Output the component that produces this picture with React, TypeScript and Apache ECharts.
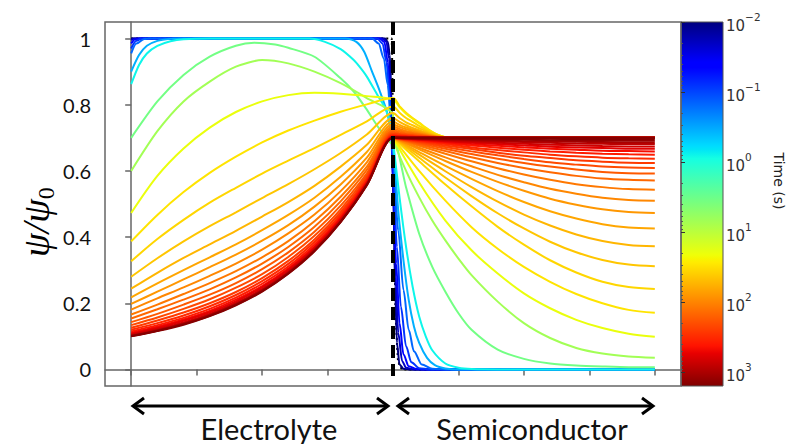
import React, { useEffect, useRef } from "react";
import * as echarts from "echarts";

// ---------- data ----------
const X_TICKS = [0, 0.25, 0.5, 0.75, 1, 1.25, 1.5, 1.75, 2];
const Y_TICKS = [0, 0.2, 0.4, 0.6, 0.8, 1];
const TIME_EXPONENTS = [-2, -1, 0, 1, 2, 3];
const COLORBAR_LOG_RANGE = [-2, 3.2];
const INTERFACE_X = 1;

const X_ELECTROLYTE = [0, 0.1, 0.2, 0.3, 0.4, 0.5, 0.6, 0.7, 0.8, 0.9, 1];
const X_BUMP = [1.025, 1.05, 1.075, 1.1, 1.125, 1.15, 1.175, 1.2, 1.25];
const X_SEMICONDUCTOR = [1, 1.1, 1.2, 1.3, 1.4, 1.5, 1.6, 1.7, 1.8, 1.9, 2];
const FAR_END = [2, 0.7];

const INITIAL_PROFILE = [[0, 1], [0.995, 1], [1.003, 0.6], [1.01, 0.15], [1.02, 0.02], [1.035, 0], [2, 0]];

const EARLY_TIMES = [0.01, 0.02, 0.04, 0.08, 0.15, 0.35, 0.8, 3.5, 7];
const EARLY_PROFILES = [
  [[0, 1], [0.97, 1], [0.98, 0.99], [0.988, 0.95], [0.995, 0.8], [1.002, 0.5], [1.008, 0.25], [1.015, 0.08], [1.025, 0.015], [1.04, 0.002], [1.06, 0], [2, 0]],
  [[0, 0.995], [0.01, 1], [0.96, 1], [0.975, 0.99], [0.985, 0.94], [0.993, 0.8], [1, 0.55], [1.01, 0.28], [1.02, 0.11], [1.035, 0.025], [1.05, 0.005], [1.08, 0], [2, 0]],
  [[0, 0.985], [0.015, 0.998], [0.03, 1], [0.95, 1], [0.967, 0.99], [0.98, 0.93], [0.99, 0.8], [1, 0.58], [1.012, 0.32], [1.025, 0.14], [1.04, 0.045], [1.06, 0.01], [1.09, 0.001], [1.12, 0], [2, 0]],
  [[0, 0.97], [0.02, 0.993], [0.04, 1], [0.94, 1], [0.96, 0.985], [0.975, 0.93], [0.988, 0.82], [1, 0.62], [1.015, 0.37], [1.03, 0.19], [1.05, 0.07], [1.07, 0.022], [1.1, 0.004], [1.14, 0], [2, 0]],
  [[0, 0.955], [0.02, 0.985], [0.05, 0.999], [0.07, 1], [0.92, 1], [0.945, 0.985], [0.965, 0.94], [0.98, 0.86], [0.993, 0.74], [1, 0.65], [1.02, 0.42], [1.04, 0.24], [1.06, 0.12], [1.08, 0.055], [1.11, 0.015], [1.15, 0.002], [1.2, 0], [2, 0]],
  [[0, 0.9], [0.03, 0.95], [0.06, 0.978], [0.1, 0.993], [0.15, 0.999], [0.2, 1], [0.82, 1], [0.86, 0.99], [0.89, 0.96], [0.92, 0.9], [0.95, 0.84], [0.98, 0.77], [1, 0.68], [1.02, 0.48], [1.04, 0.33], [1.06, 0.21], [1.08, 0.13], [1.1, 0.08], [1.13, 0.035], [1.16, 0.013], [1.2, 0.003], [1.25, 0], [2, 0]],
  [[0, 0.862], [0.03, 0.92], [0.06, 0.955], [0.1, 0.978], [0.15, 0.992], [0.2, 0.998], [0.3, 1], [0.68, 1], [0.74, 0.99], [0.8, 0.968], [0.85, 0.935], [0.875, 0.912], [0.9, 0.885], [0.94, 0.83], [0.97, 0.79], [0.99, 0.74], [1, 0.69], [1.025, 0.52], [1.05, 0.37], [1.075, 0.25], [1.1, 0.16], [1.125, 0.1], [1.15, 0.058], [1.2, 0.018], [1.25, 0.005], [1.3, 0.001], [1.4, 0], [2, 0]],
  [[0, 0.7], [0.1, 0.81], [0.2, 0.89], [0.3, 0.945], [0.4, 0.978], [0.47, 0.987], [0.55, 0.982], [0.6, 0.972], [0.7, 0.945], [0.8, 0.88], [0.85, 0.84], [0.9, 0.785], [0.95, 0.725], [1, 0.68], [1.002, 0.7], [1.05, 0.55], [1.1, 0.41], [1.15, 0.31], [1.2, 0.235], [1.25, 0.17], [1.3, 0.12], [1.4, 0.06], [1.5, 0.032], [1.6, 0.018], [1.7, 0.012], [1.8, 0.009], [1.9, 0.007], [2, 0.007]],
  [[0, 0.6], [0.1, 0.72], [0.2, 0.81], [0.3, 0.87], [0.4, 0.915], [0.5, 0.935], [0.6, 0.925], [0.7, 0.9], [0.8, 0.865], [0.9, 0.82], [1, 0.77], [1.002, 0.7], [1.05, 0.6], [1.1, 0.52], [1.15, 0.45], [1.2, 0.39], [1.25, 0.335], [1.3, 0.285], [1.4, 0.205], [1.5, 0.14], [1.6, 0.095], [1.7, 0.065], [1.8, 0.048], [1.9, 0.039], [2, 0.035]],
];
// curves that need monotone smoothing (step-like early profiles)
const EARLY_MONOTONE = [true, true, true, true, true, false, false, false, false];

const LATE_TIMES = [20, 30, 36, 44, 54, 66, 80, 97, 118, 144, 175, 212, 258, 314, 382, 465, 565, 687, 836, 1016, 1236, 1500];
const LATE_ELECTROLYTE = [
  [0.473, 0.585, 0.668, 0.731, 0.778, 0.81, 0.829, 0.836, 0.833, 0.826, 0.816],
  [0.387, 0.467, 0.536, 0.594, 0.643, 0.686, 0.722, 0.752, 0.779, 0.801, 0.82],
  [0.327, 0.394, 0.452, 0.504, 0.549, 0.592, 0.631, 0.669, 0.709, 0.75, 0.795],
  [0.28, 0.336, 0.387, 0.433, 0.475, 0.518, 0.56, 0.605, 0.654, 0.71, 0.775],
  [0.244, 0.292, 0.337, 0.378, 0.419, 0.462, 0.506, 0.555, 0.613, 0.679, 0.76],
  [0.218, 0.26, 0.3, 0.339, 0.378, 0.421, 0.467, 0.519, 0.582, 0.657, 0.749],
  [0.198, 0.235, 0.272, 0.309, 0.347, 0.389, 0.436, 0.492, 0.559, 0.64, 0.741],
  [0.181, 0.215, 0.248, 0.283, 0.32, 0.362, 0.411, 0.468, 0.539, 0.626, 0.734],
  [0.166, 0.196, 0.228, 0.261, 0.297, 0.339, 0.388, 0.448, 0.522, 0.613, 0.728],
  [0.154, 0.182, 0.211, 0.242, 0.278, 0.32, 0.37, 0.431, 0.508, 0.603, 0.723],
  [0.143, 0.168, 0.196, 0.226, 0.261, 0.303, 0.354, 0.416, 0.495, 0.593, 0.718],
  [0.134, 0.157, 0.183, 0.212, 0.247, 0.288, 0.34, 0.404, 0.484, 0.586, 0.714],
  [0.126, 0.148, 0.172, 0.2, 0.234, 0.276, 0.328, 0.393, 0.475, 0.579, 0.711],
  [0.12, 0.14, 0.163, 0.191, 0.225, 0.267, 0.319, 0.385, 0.468, 0.574, 0.708],
  [0.115, 0.134, 0.156, 0.183, 0.217, 0.259, 0.311, 0.378, 0.462, 0.569, 0.706],
  [0.111, 0.129, 0.151, 0.177, 0.211, 0.252, 0.305, 0.372, 0.457, 0.566, 0.705],
  [0.108, 0.125, 0.147, 0.173, 0.206, 0.248, 0.301, 0.368, 0.454, 0.564, 0.703],
  [0.105, 0.122, 0.142, 0.168, 0.201, 0.243, 0.296, 0.364, 0.45, 0.561, 0.702],
  [0.103, 0.119, 0.139, 0.165, 0.198, 0.24, 0.293, 0.361, 0.448, 0.559, 0.701],
  [0.102, 0.118, 0.138, 0.164, 0.197, 0.238, 0.292, 0.36, 0.447, 0.558, 0.701],
  [0.101, 0.117, 0.137, 0.162, 0.195, 0.237, 0.29, 0.358, 0.446, 0.557, 0.7],
  [0.1, 0.116, 0.135, 0.161, 0.194, 0.235, 0.289, 0.357, 0.445, 0.557, 0.7],
];
const LATE_BUMP = [
  [0.793, 0.773, 0.758, 0.744, 0.73, 0.717, 0.708, 0.702, 0.7],
  [0.796, 0.776, 0.76, 0.746, 0.731, 0.718, 0.708, 0.702, 0.7],
  [0.776, 0.76, 0.748, 0.736, 0.725, 0.714, 0.707, 0.702, 0.7],
  [0.76, 0.747, 0.738, 0.729, 0.72, 0.711, 0.705, 0.702, 0.7],
  [0.748, 0.738, 0.73, 0.723, 0.716, 0.709, 0.704, 0.701, 0.7],
  [0.739, 0.731, 0.725, 0.719, 0.713, 0.707, 0.703, 0.701, 0.7],
  [0.733, 0.726, 0.721, 0.716, 0.711, 0.706, 0.703, 0.701, 0.7],
  [0.727, 0.721, 0.717, 0.713, 0.709, 0.705, 0.702, 0.701, 0.7],
  [0.722, 0.718, 0.714, 0.711, 0.707, 0.704, 0.702, 0.701, 0.7],
  [0.718, 0.714, 0.712, 0.709, 0.706, 0.703, 0.702, 0.7, 0.7],
  [0.714, 0.711, 0.709, 0.707, 0.705, 0.703, 0.701, 0.7, 0.7],
  [0.711, 0.709, 0.707, 0.705, 0.704, 0.702, 0.701, 0.7, 0.7],
  [0.709, 0.707, 0.706, 0.704, 0.703, 0.702, 0.701, 0.7, 0.7],
  [0.706, 0.705, 0.704, 0.703, 0.702, 0.701, 0.701, 0.7, 0.7],
  [0.705, 0.704, 0.703, 0.702, 0.702, 0.701, 0.7, 0.7, 0.7],
  [0.704, 0.703, 0.702, 0.702, 0.701, 0.701, 0.7, 0.7, 0.7],
  [0.702, 0.702, 0.701, 0.701, 0.701, 0.7, 0.7, 0.7, 0.7],
  [0.701, 0.701, 0.701, 0.7, 0.7, 0.7, 0.7, 0.7, 0.7],
  [0.701, 0.701, 0.7, 0.7, 0.7, 0.7, 0.7, 0.7, 0.7],
  [0.7, 0.7, 0.7, 0.7, 0.7, 0.7, 0.7, 0.7, 0.7],
  [0.7, 0.7, 0.7, 0.7, 0.7, 0.7, 0.7, 0.7, 0.7],
  [0.7, 0.7, 0.7, 0.7, 0.7, 0.7, 0.7, 0.7, 0.7],
];
const LATE_SEMICONDUCTOR = [
  [0.7, 0.565, 0.45, 0.36, 0.29, 0.23, 0.185, 0.15, 0.125, 0.108, 0.099],
  [0.7, 0.6, 0.51, 0.43, 0.365, 0.31, 0.265, 0.228, 0.2, 0.18, 0.171],
  [0.7, 0.629, 0.559, 0.493, 0.431, 0.377, 0.33, 0.293, 0.265, 0.249, 0.243],
  [0.7, 0.64, 0.58, 0.524, 0.472, 0.426, 0.386, 0.354, 0.331, 0.317, 0.312],
  [0.7, 0.649, 0.599, 0.551, 0.507, 0.468, 0.435, 0.408, 0.388, 0.376, 0.372],
  [0.7, 0.657, 0.615, 0.576, 0.539, 0.506, 0.478, 0.456, 0.439, 0.429, 0.426],
  [0.7, 0.665, 0.63, 0.597, 0.567, 0.54, 0.516, 0.498, 0.484, 0.476, 0.473],
  [0.7, 0.67, 0.641, 0.614, 0.588, 0.566, 0.546, 0.531, 0.519, 0.512, 0.51],
  [0.7, 0.676, 0.652, 0.629, 0.608, 0.589, 0.573, 0.56, 0.551, 0.545, 0.543],
  [0.7, 0.68, 0.66, 0.641, 0.624, 0.609, 0.596, 0.585, 0.577, 0.573, 0.571],
  [0.7, 0.683, 0.667, 0.651, 0.637, 0.624, 0.613, 0.604, 0.597, 0.593, 0.592],
  [0.7, 0.686, 0.672, 0.659, 0.647, 0.636, 0.626, 0.619, 0.613, 0.61, 0.609],
  [0.7, 0.688, 0.677, 0.666, 0.655, 0.646, 0.639, 0.632, 0.628, 0.625, 0.624],
  [0.7, 0.69, 0.681, 0.671, 0.663, 0.656, 0.649, 0.644, 0.64, 0.638, 0.637],
  [0.7, 0.692, 0.684, 0.677, 0.67, 0.664, 0.659, 0.655, 0.652, 0.65, 0.649],
  [0.7, 0.694, 0.687, 0.681, 0.676, 0.671, 0.667, 0.664, 0.661, 0.66, 0.659],
  [0.7, 0.695, 0.69, 0.685, 0.681, 0.677, 0.673, 0.671, 0.669, 0.667, 0.667],
  [0.7, 0.696, 0.692, 0.688, 0.685, 0.682, 0.679, 0.677, 0.675, 0.674, 0.674],
  [0.7, 0.697, 0.694, 0.691, 0.689, 0.687, 0.685, 0.683, 0.682, 0.681, 0.681],
  [0.7, 0.698, 0.696, 0.694, 0.692, 0.69, 0.689, 0.688, 0.687, 0.686, 0.686],
  [0.7, 0.699, 0.697, 0.696, 0.695, 0.694, 0.693, 0.692, 0.691, 0.691, 0.691],
  [0.7, 0.699, 0.699, 0.698, 0.698, 0.697, 0.697, 0.696, 0.696, 0.696, 0.696],
];

// ---------- styling helpers ----------
const JET_R = [[0, 0], [0.35, 0], [0.66, 1], [0.89, 1], [1, 0.5]];
const JET_G = [[0, 0], [0.125, 0], [0.375, 1], [0.64, 1], [0.91, 0], [1, 0]];
const JET_B = [[0, 0.5], [0.11, 1], [0.34, 1], [0.65, 0], [1, 0]];

function seg(p: number, pts: number[][]) {
  if (p <= pts[0][0]) return pts[0][1];
  for (let i = 1; i < pts.length; i++) {
    if (p <= pts[i][0]) {
      const [x0, y0] = pts[i - 1];
      const [x1, y1] = pts[i];
      return y0 + ((y1 - y0) * (p - x0)) / (x1 - x0);
    }
  }
  return pts[pts.length - 1][1];
}
function jet(p: number) {
  const c = (v: number) => Math.round(Math.max(0, Math.min(1, v)) * 255);
  return `rgb(${c(seg(p, JET_R))},${c(seg(p, JET_G))},${c(seg(p, JET_B))})`;
}
function timeColor(t: number) {
  const p = (Math.log10(t) - COLORBAR_LOG_RANGE[0]) / (COLORBAR_LOG_RANGE[1] - COLORBAR_LOG_RANGE[0]);
  return jet(p);
}

const PLOT = { left: 105, top: 22, width: 576, height: 364 };
const CBAR = { left: 681, top: 22, width: 42, height: 364 };

export default function App() {
  const ref = useRef<HTMLDivElement>(null);
  useEffect(() => {
    if (!ref.current) return;
    const chart = echarts.init(ref.current, undefined, { renderer: "svg" });

    const lineBase = {
      type: "line",
      xAxisIndex: 0,
      yAxisIndex: 0,
      showSymbol: false,
      symbol: "none",
      smooth: true,
      silent: true,
      animation: false,
    };
    const series: any[] = [];
    series.push({
      ...lineBase,
      data: INITIAL_PROFILE,
      smooth: 0.2,
      smoothMonotone: "x",
      lineStyle: { color: "#000", width: 2, type: [2, 3] },
    });
    EARLY_TIMES.forEach((t, i) => {
      const s: any = {
        ...lineBase,
        data: EARLY_PROFILES[i],
        smooth: EARLY_MONOTONE[i] ? 0.3 : 0.25,
        lineStyle: { color: timeColor(t), width: 2 },
      };
      if (EARLY_MONOTONE[i]) s.smoothMonotone = "x";
      series.push(s);
    });
    LATE_TIMES.forEach((t, i) => {
      const color = timeColor(t);
      const a: number[][] = X_ELECTROLYTE.map((x, k) => [x, LATE_ELECTROLYTE[i][k]]);
      X_BUMP.forEach((x, k) => a.push([x, LATE_BUMP[i][k]]));
      a.push(FAR_END);
      series.push({ ...lineBase, data: a, smooth: 0.3, lineStyle: { color, width: 2 } });
      series.push({
        ...lineBase,
        data: X_SEMICONDUCTOR.map((x, k) => [x, LATE_SEMICONDUCTOR[i][k]]),
        smooth: 0.3,
        lineStyle: { color, width: 2 },
      });
    });
    series.push({
      type: "line",
      xAxisIndex: 0,
      yAxisIndex: 0,
      showSymbol: false,
      symbol: "none",
      silent: true,
      data: [[INTERFACE_X, 1.05], [INTERFACE_X, -0.02]],
      lineStyle: { color: "#000", width: 4, type: [13, 6] },
      z: 10,
    });
    series.push({ type: "line", xAxisIndex: 1, yAxisIndex: 1, data: [] });
    series.push({ type: "line", xAxisIndex: 2, yAxisIndex: 2, data: [] });

    const minorTicks: number[] = [];
    for (let e = -2; e <= 3; e++) {
      for (let m = 2; m <= 9; m++) {
        const v = e + Math.log10(m);
        if (v < COLORBAR_LOG_RANGE[1]) minorTicks.push(v);
      }
    }

    const jetStops = [0, 0.11, 0.125, 0.34, 0.35, 0.375, 0.5, 0.64, 0.65, 0.66, 0.89, 0.91, 1].map((p) => ({
      offset: p,
      color: jet(p),
    }));

    const sup = (v: number) => (v < 0 ? "\u2212" + Math.abs(v) : String(v));

    const option: any = {
      animation: false,
      backgroundColor: "#fff",
      grid: [
        { ...PLOT, show: true, borderColor: "#666", borderWidth: 1.5, containLabel: false },
        { ...CBAR, containLabel: false },
        { ...CBAR, containLabel: false },
      ],
      xAxis: [
        {
          type: "value",
          gridIndex: 0,
          min: -0.1,
          max: 2.1,
          axisLine: { show: true, lineStyle: { color: "#666", width: 1.5 } },
          axisTick: { show: true, customValues: X_TICKS, length: 6, lineStyle: { color: "#666", width: 1.5 } },
          axisLabel: { show: false },
          splitLine: { show: false },
        },
        { type: "value", gridIndex: 1, show: false, min: 0, max: 1 },
        { type: "value", gridIndex: 2, show: false, min: 0, max: 1 },
      ],
      yAxis: [
        {
          type: "value",
          gridIndex: 0,
          min: -0.05,
          max: 1.05,
          axisLine: { show: true, lineStyle: { color: "#666", width: 1.5 } },
          axisTick: { show: true, customValues: Y_TICKS, length: 6, lineStyle: { color: "#666", width: 1.5 } },
          axisLabel: {
            show: true,
            customValues: Y_TICKS,
            margin: 14,
            fontFamily: "Lato",
            fontSize: 20,
            color: "#111",
            formatter: (v: number) => (v === 0 || v === 1 ? String(v) : v.toFixed(1)),
          },
          splitLine: { show: false },
        },
        {
          type: "value",
          gridIndex: 1,
          min: COLORBAR_LOG_RANGE[0],
          max: COLORBAR_LOG_RANGE[1],
          inverse: true,
          position: "right",
          axisLine: { show: false },
          splitLine: { show: false },
          axisTick: { show: true, customValues: TIME_EXPONENTS, length: 4, lineStyle: { color: "#333", width: 1 } },
          axisLabel: {
            show: true,
            customValues: TIME_EXPONENTS,
            margin: 3,
            formatter: (v: number) => `{b|10}{s|${sup(v)}}`,
            rich: {
              b: { fontFamily: "DejaVu Sans", fontSize: 15, color: "#333", verticalAlign: "bottom", lineHeight: 22 },
              s: { fontFamily: "DejaVu Sans", fontSize: 10.5, color: "#333", verticalAlign: "top", lineHeight: 22 },
            },
          },
        },
        {
          type: "value",
          gridIndex: 2,
          min: COLORBAR_LOG_RANGE[0],
          max: COLORBAR_LOG_RANGE[1],
          inverse: true,
          position: "right",
          axisLine: { show: false },
          splitLine: { show: false },
          axisTick: { show: true, customValues: minorTicks, length: 2, lineStyle: { color: "#555", width: 1 } },
          axisLabel: { show: false },
        },
      ],
      graphic: [
        {
          type: "rect",
          shape: { x: CBAR.left, y: CBAR.top, width: CBAR.width, height: CBAR.height },
          style: {
            fill: { type: "linear", x: 0, y: 0, x2: 0, y2: 1, colorStops: jetStops },
            stroke: "#555",
            lineWidth: 1,
          },
          z: -1,
        },
        {
          type: "text",
          x: 779,
          y: 181,
          rotation: -Math.PI / 2,
          style: {
            text: "Time (s)",
            fontFamily: "DejaVu Sans",
            fontSize: 14,
            fill: "#222",
            align: "center",
            verticalAlign: "middle",
          },
        },
        {
          type: "text",
          x: 36,
          y: 222,
          rotation: Math.PI / 2,
          style: {
            text: "{i|\u03c8/\u03c8}{s|0}",
            align: "center",
            verticalAlign: "middle",
            rich: {
              i: { fontFamily: "Liberation Serif", fontStyle: "italic", fontSize: 38, fill: "#000", lineHeight: 44, verticalAlign: "middle" },
              s: { fontFamily: "Liberation Serif", fontSize: 24, fill: "#000", lineHeight: 44, verticalAlign: "bottom" },
            },
          },
        },
        // arrows
        { type: "line", shape: { x1: 133, y1: 406, x2: 388, y2: 406 }, style: { stroke: "#000", lineWidth: 3 } },
        { type: "polyline", shape: { points: [[144, 398], [133, 406], [144, 414]] }, style: { stroke: "#000", lineWidth: 3, fill: null } },
        { type: "polyline", shape: { points: [[377, 398], [388, 406], [377, 414]] }, style: { stroke: "#000", lineWidth: 3, fill: null } },
        { type: "line", shape: { x1: 398, y1: 406, x2: 653, y2: 406 }, style: { stroke: "#000", lineWidth: 3 } },
        { type: "polyline", shape: { points: [[409, 398], [398, 406], [409, 414]] }, style: { stroke: "#000", lineWidth: 3, fill: null } },
        { type: "polyline", shape: { points: [[642, 398], [653, 406], [642, 414]] }, style: { stroke: "#000", lineWidth: 3, fill: null } },
        {
          type: "text",
          x: 269,
          y: 428,
          style: { text: "Electrolyte", fontFamily: "Lato", fontSize: 29, fill: "#111", align: "center", verticalAlign: "middle" },
        },
        {
          type: "text",
          x: 532,
          y: 428,
          style: { text: "Semiconductor", fontFamily: "Lato", fontSize: 29, fill: "#111", align: "center", verticalAlign: "middle" },
        },
      ],
      series,
    };
    chart.setOption(option);
    return () => chart.dispose();
  }, []);
  return <div ref={ref} style={{ width: 786, height: 444, position: "absolute", left: 0, top: 0 }} />;
}
